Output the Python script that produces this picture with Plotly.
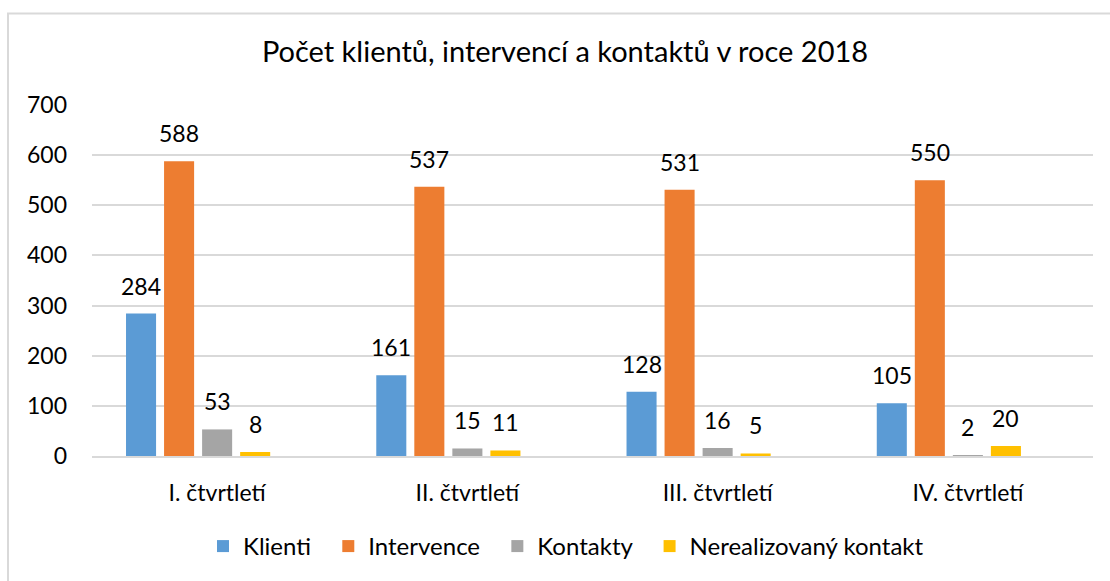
import plotly.graph_objects as go

categories = ["I. čtvrtletí", "II. čtvrtletí", "III. čtvrtletí", "IV. čtvrtletí"]
klienti = [284, 161, 128, 105]
intervence = [588, 537, 531, 550]
kontakty = [53, 15, 16, 2]
nerealizovany = [8, 11, 5, 20]
y_ticks = [0, 100, 200, 300, 400, 500, 600, 700]

series_names = ["Klienti", "Intervence", "Kontakty", "Nerealizovaný kontakt"]
series_values = [klienti, intervence, kontakty, nerealizovany]
series_colors = ["#5B9BD5", "#ED7D31", "#A5A5A5", "#FFC000"]

FONT = "Lato"
NB = "\u00a0" * 2

L, R, T, B = 92, 17, 105, 123
W, H = 1110, 581
pw, ph = W - L - R, H - T - B
BARGAP, GROUPGAP = 0.24, 0.21
N_SLOTS = 5  # original clustered layout reserves a fifth (empty) slot

def px_x(p):
    return (p - L) / pw

def px_y(p):
    return (H - B - p) / ph

fig = go.Figure()
for name, vals, col in zip(series_names, series_values, series_colors):
    fig.add_trace(go.Bar(
        x=categories, y=vals, name=name + NB, marker_color=col,
        marker_line_width=0,
    ))
fig.add_trace(go.Bar(x=categories, y=[None] * 4, showlegend=False, hoverinfo="skip"))

# value labels positioned via the axes (category + group slot offset)
slot_px = (pw / len(categories)) * (1 - BARGAP) / N_SLOTS
annotations = []
for i, vals in enumerate(series_values):
    dx = (i - (N_SLOTS - 1) / 2) * slot_px
    for cat, v in zip(categories, vals):
        annotations.append(dict(
            x=cat, y=v, xref="x", yref="y", text=str(v), showarrow=False,
            xanchor="center", yanchor="bottom", xshift=dx, yshift=12,
            font=dict(family=FONT, size=23, color="#000000"),
        ))

fig.update_layout(
    width=W, height=H,
    margin=dict(l=L, r=R, t=T, b=B),
    paper_bgcolor="white", plot_bgcolor="white",
    barmode="group", bargap=BARGAP, bargroupgap=GROUPGAP,
    font=dict(family=FONT, color="#000000"),
    title=dict(text="Počet klientů, intervencí a kontaktů v roce 2018",
               x=565 / W, xanchor="center", y=1 - 52 / H, yanchor="middle",
               font=dict(family=FONT, size=29, color="#000000")),
    yaxis=dict(range=[0, 700], tickvals=y_ticks, showgrid=True,
               gridcolor="#D9D9D9", gridwidth=1.5, zeroline=False,
               showline=False, ticks="", ticklabelstandoff=24,
               tickfont=dict(family=FONT, size=23, color="#000000")),
    xaxis=dict(showline=True, linecolor="#D9D9D9", linewidth=1.5,
               ticks="", ticklabelstandoff=16,
               tickfont=dict(family=FONT, size=23, color="#000000")),
    legend=dict(orientation="h", x=px_x(572), xanchor="center",
                y=px_y(549), yanchor="middle",
                font=dict(family=FONT, size=24, color="#000000"),
                itemwidth=30, tracegroupgap=0),
    showlegend=True,
    annotations=annotations,
    shapes=[dict(type="rect", xref="paper", yref="paper",
                 x0=px_x(8), x1=px_x(1120), y0=px_y(600), y1=px_y(13),
                 line=dict(color="#D9D9D9", width=2), layer="below")],
)

fig.write_html("out.html", config={"displayModeBar": False},
               post_script="document.body.style.margin='0';")
